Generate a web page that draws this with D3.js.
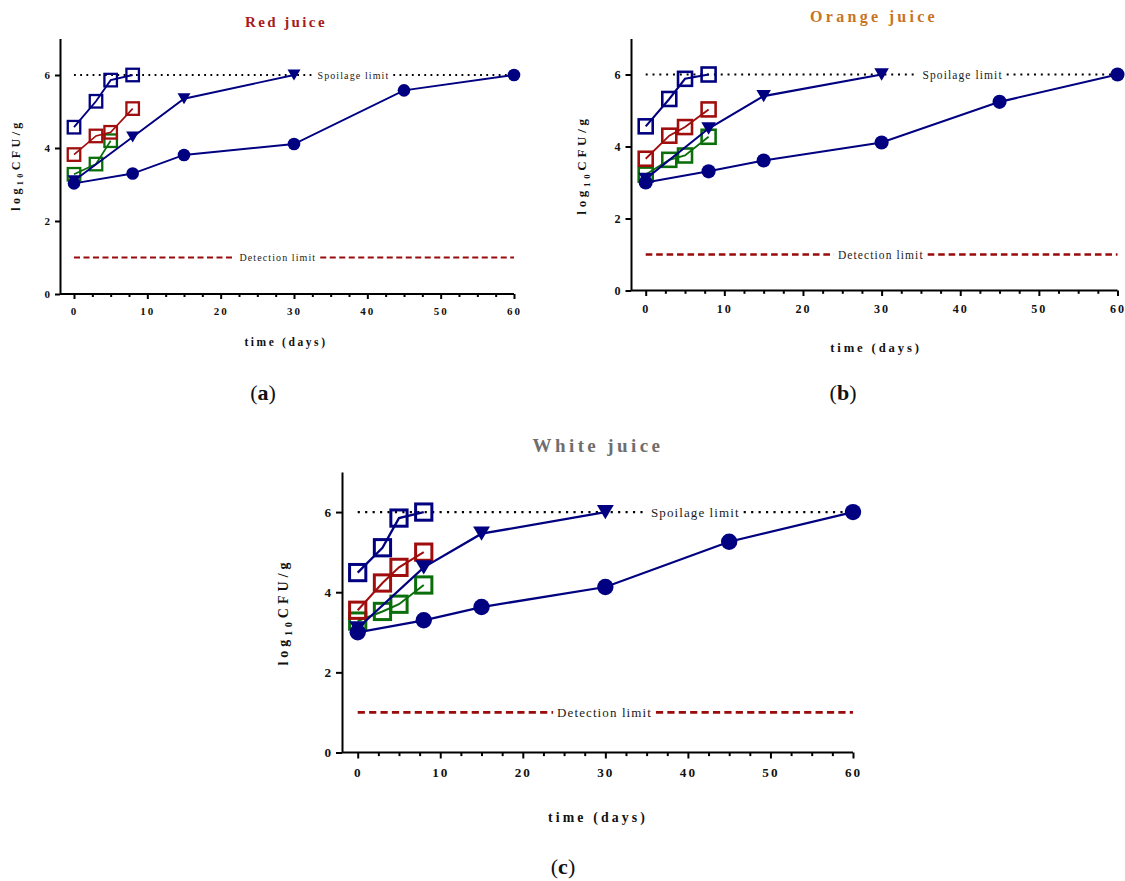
<!DOCTYPE html>
<html><head><meta charset="utf-8">
<script src="https://cdn.jsdelivr.net/npm/d3@7"></script>
<style>
body{margin:0;background:#fff}
svg{display:block}
text{font-family:"Liberation Serif","Times New Roman",serif}
</style>
</head><body>
<svg id="chart" width="1125" height="881"></svg>
<script>
// ---------- data ----------
const circleDays   = [0, 8, 15, 30, 45, 60];
const triangleDays = [0, 8, 15, 30];
const squareDays   = [0, 3, 5, 8];
const redGreenDays = [0, 3, 5];

const redCircle   = [3.03, 3.30, 3.81, 4.11, 5.58, 6.00];
const redTriangle = [3.10, 4.30, 5.35, 6.00];
const redBlueSq   = [4.57, 5.28, 5.86, 6.00];
const redRedSq    = [3.82, 4.33, 4.43, 5.08];
const redGreenSq  = [3.28, 3.56, 4.20];

const orangeCircle   = [3.00, 3.31, 3.61, 4.11, 5.24, 6.00];
const orangeTriangle = [3.10, 4.50, 5.40, 6.00];
const orangeBlueSq   = [4.56, 5.32, 5.88, 6.00];
const orangeRedSq    = [3.66, 4.30, 4.54, 5.03];
const orangeGreenSq  = [3.22, 3.63, 3.75, 4.27];

const whiteCircle   = [3.00, 3.30, 3.63, 4.13, 5.26, 6.00];
const whiteTriangle = [3.10, 4.62, 5.46, 6.00];
const whiteBlueSq   = [4.49, 5.11, 5.85, 6.00];
const whiteRedSq    = [3.55, 4.23, 4.62, 5.00];
const whiteGreenSq  = [3.28, 3.52, 3.70, 4.18];

const xTicks      = [0, 10, 20, 30, 40, 50, 60];
const xMinorTicks = [2.5, 5, 7.5, 12.5, 15, 17.5, 22.5, 25, 27.5, 32.5, 35, 37.5, 42.5, 45, 47.5, 52.5, 55, 57.5];
const yTicks      = [0, 2, 4, 6];
const spoilageLimit  = 6;
const detectionLimit = 1;
const panelTitles = ["Red juice", "Orange juice", "White juice"];
const panelLetters = ["a", "b", "c"];

// ---------- layout / style ----------
const NAVY = "#000080", RED = "#a00d0d", GREEN = "#0a6e0a";
const panels = [
  {title: panelTitles[0], letter: panelLetters[0], titleColor: "#a51c1c",
   ax: 60, x0: 74, x1: 514, y0: 294, y1: 38.5, s: 1, m: 1,
   titleX: 286, titleY: 27, titleSize: 15, titleLs: 2.4,
   ylabX: 20, ylabY: 165, ylabFs: 12, ylabLs: 3.4,
   xlabX: 286, xlabY: 346, letX: 263, letY: 400,
   spoilX: 38.1, detX: 27.8, limSize: 10,
   circle: redCircle, tri: redTriangle, blue: redBlueSq, red: redRedSq, green: redGreenSq, greenDays: redGreenDays},
  {title: panelTitles[1], letter: panelLetters[1], titleColor: "#c8741f",
   ax: 631, x0: 645.7, x1: 1117.5, y0: 290.5, y1: 38.5, s: 1.1, m: 1.12,
   titleX: 874, titleY: 22, titleSize: 16, titleLs: 3.3,
   ylabX: 586, ylabY: 165, ylabFs: 13, ylabLs: 3.7,
   xlabX: 876, xlabY: 352, letX: 843, letY: 400,
   spoilX: 40.3, detX: 29.9, limSize: 11.5,
   circle: orangeCircle, tri: orangeTriangle, blue: orangeBlueSq, red: orangeRedSq, green: orangeGreenSq, greenDays: squareDays},
  {title: panelTitles[2], letter: panelLetters[2], titleColor: "#6e6e6e",
   ax: 342, x0: 357.7, x1: 853, y0: 752.5, y1: 472, s: 1.2, m: 1.3,
   titleX: 598, titleY: 452, titleSize: 19, titleLs: 3.4,
   ylabX: 288, ylabY: 612, ylabFs: 14, ylabLs: 4,
   xlabX: 598, xlabY: 822, letX: 563, letY: 874,
   spoilX: 40.9, detX: 29.9, limSize: 13,
   circle: whiteCircle, tri: whiteTriangle, blue: whiteBlueSq, red: whiteRedSq, green: whiteGreenSq, greenDays: squareDays}
];

const svg = d3.select("#chart");

function zip(xs, ys){ return xs.map((d,i)=>[d, ys[i]]); }

function limitLine(g, x, y, val, label, cx, p, style){
  const yy = y(val);
  const lg = g.append("g");
  const t = lg.append("text").attr("x", x(cx)).attr("y", yy + p.limSize*0.35)
    .attr("text-anchor","middle").attr("font-size", p.limSize)
    .attr("letter-spacing", 1.1).attr("fill","#1a1a1a").text(label);
  const w = t.node().getComputedTextLength();
  const pad = 4;
  const segs = [[x(0), x(cx) - w/2 - pad], [x(cx) + w/2 + pad, x(60)]];
  segs.forEach(sg=>{
    lg.append("line").attr("x1", sg[0]).attr("x2", sg[1]).attr("y1", yy).attr("y2", yy)
      .attr("stroke", style.color).attr("stroke-width", style.width)
      .attr("stroke-dasharray", style.dash);
  });
}

panels.forEach(p=>{
  const g = svg.append("g");
  const x = d3.scaleLinear().domain([0,60]).range([p.x0, p.x1]);
  const y = d3.scaleLinear().domain([0,7]).range([p.y0, p.y1]);
  const tickFs = 11*p.s;

  // y axis
  const yA = g.append("g").attr("transform", `translate(${p.ax},0)`)
    .call(d3.axisLeft(y).tickValues(yTicks).tickFormat(d3.format("d")).tickSize(5*p.s).tickSizeOuter(0).tickPadding(3));
  // x axis
  const xA = g.append("g").attr("transform", `translate(0,${p.y0})`)
    .call(d3.axisBottom(x).tickValues(xTicks).tickFormat(d3.format("d")).tickSize(5*p.s).tickSizeOuter(0).tickPadding(8*p.s));
  xA.select(".domain").remove();
  const xM = g.append("g").attr("transform", `translate(0,${p.y0})`)
    .call(d3.axisBottom(x).tickValues(xMinorTicks).tickSize(3*p.s).tickFormat(""));
  xM.select(".domain").remove();
  g.append("line").attr("x1", p.ax).attr("x2", x(60)).attr("y1", p.y0).attr("y2", p.y0)
    .attr("stroke","#000").attr("stroke-width", 2);
  [yA, xA, xM].forEach(a=>{
    a.selectAll("path,line").attr("stroke","#000").attr("stroke-width", 2);
    a.selectAll("text").attr("font-family","'Liberation Serif',serif").attr("font-weight","bold")
      .attr("font-size", tickFs).attr("letter-spacing", 2).attr("fill","#111");
  });

  // limit lines
  limitLine(g, x, y, spoilageLimit, "Spoilage limit", p.spoilX, p, {color:"#000", width:1.8*p.s, dash:`${1.8*p.s},${4.4*p.s}`});
  limitLine(g, x, y, detectionLimit, "Detection limit", p.detX, p, {color:"#990a0a", width:2.2*p.s, dash:`${6*p.s},${3.5*p.s}`});

  const line = d3.line().x(d=>x(d[0])).y(d=>y(d[1]));
  const sq = 12.5*p.m, sw = 2.3*p.m;

  function squares(data, color, lw){
    g.append("path").datum(data).attr("d", line).attr("fill","none").attr("stroke", color).attr("stroke-width", lw);
    g.selectAll(null).data(data).enter().append("rect")
      .attr("x", d=>x(d[0]) - sq/2).attr("y", d=>y(d[1]) - sq/2)
      .attr("width", sq).attr("height", sq)
      .attr("fill","none").attr("stroke", color).attr("stroke-width", sw);
  }
  squares(zip(p.greenDays, p.green), GREEN, 1.7*p.s);
  squares(zip(squareDays, p.red), RED, 1.7*p.s);
  squares(zip(squareDays, p.blue), NAVY, 1.9*p.s);

  // triangles
  const triData = zip(triangleDays, p.tri);
  g.append("path").datum(triData).attr("d", line).attr("fill","none").attr("stroke", NAVY).attr("stroke-width", 1.9*p.s);
  const tw = 13*p.m, th = 11*p.m;
  g.selectAll(null).data(triData).enter().append("path")
    .attr("d", d=>{const cx=x(d[0]), cy=y(d[1]); return `M${cx-tw/2},${cy-th/2}L${cx+tw/2},${cy-th/2}L${cx},${cy+th/2}Z`;})
    .attr("fill", NAVY);

  // circles
  const cData = zip(circleDays, p.circle);
  g.append("path").datum(cData).attr("d", line).attr("fill","none").attr("stroke", NAVY).attr("stroke-width", 1.9*p.s);
  g.selectAll(null).data(cData).enter().append("circle")
    .attr("cx", d=>x(d[0])).attr("cy", d=>y(d[1])).attr("r", 6.3*p.m).attr("fill", NAVY);

  // titles and labels
  g.append("text").attr("x", p.titleX).attr("y", p.titleY).attr("text-anchor","middle")
    .attr("font-weight","bold").attr("font-size", p.titleSize).attr("letter-spacing", p.titleLs)
    .attr("fill", p.titleColor).text(p.title);

  g.append("text").attr("x", p.xlabX).attr("y", p.xlabY).attr("text-anchor","middle")
    .attr("font-weight","bold").attr("font-size", 11.5*p.s).attr("letter-spacing", 2.6*p.s)
    .attr("fill","#111").text("time (days)");

  const yl = g.append("text").attr("transform", `translate(${p.ylabX},${p.ylabY}) rotate(-90)`)
    .attr("text-anchor","middle").attr("font-weight","bold").attr("font-size", p.ylabFs)
    .attr("letter-spacing", p.ylabLs).attr("fill","#111");
  yl.append("tspan").text("log");
  yl.append("tspan").attr("font-size", p.ylabFs*0.68).attr("dy", p.ylabFs*0.28).text("10");
  yl.append("tspan").attr("dy", -p.ylabFs*0.28).text("CFU/g");

  const lt = g.append("text").attr("x", p.letX).attr("y", p.letY).attr("text-anchor","middle")
    .attr("font-size", 22).attr("fill","#111");
  lt.append("tspan").text("(");
  lt.append("tspan").attr("font-weight","bold").text(p.letter);
  lt.append("tspan").text(")");
});
</script>
</body></html>
